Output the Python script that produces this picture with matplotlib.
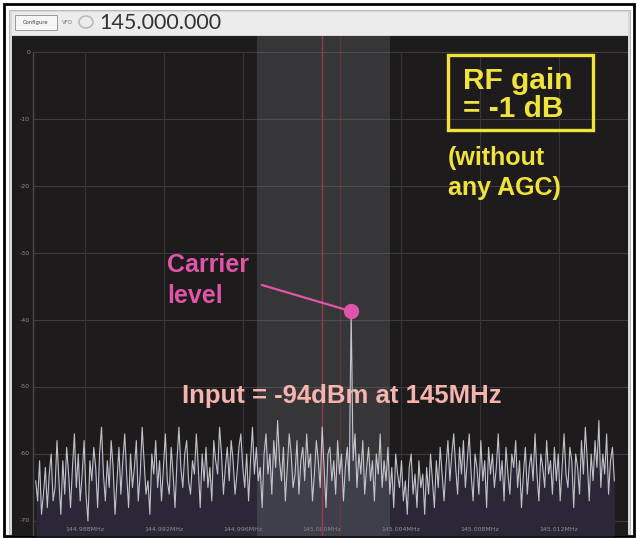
import numpy as np
import matplotlib
matplotlib.use("Agg")
import matplotlib.pyplot as plt
from matplotlib.patches import Rectangle, Circle

W, H = 637, 538

# spectrum bins (kHz offset from 145.000 MHz) and levels (dB)
f_start, f_stop = -14.5, 14.8
levels = [
    -64, -67, -61, -69, -66, -62, -68, -63, -60, -67, -65, -58, -64, -69, -61, -66, -59, -63, -68, -62,
    -57, -65, -60, -67, -63, -58, -66, -70, -61, -64, -59, -62, -68, -60, -56, -63, -67, -61, -65, -58,
    -62, -69, -64, -59, -66, -61, -57, -63, -68, -60, -65, -62, -58, -67, -63, -56, -61, -66, -64, -69,
    -60, -63, -58, -65, -61, -67, -62, -57, -64, -66, -59, -63, -68, -61, -56, -62, -65, -60, -58, -64,
    -66, -61, -63, -57, -62, -68, -60, -64, -59, -65, -62, -67, -58, -61, -63, -56, -60, -66, -62, -59,
    -64, -58, -61, -66, -63, -59, -57, -62, -65, -60, -67, -61, -56, -63, -59, -64, -62, -68, -60, -57,
    -63, -60, -66, -58, -62, -55, -61, -64, -59, -67, -62, -57, -60, -65, -63, -58, -66, -61, -59, -64,
    -57, -62, -60, -67, -63, -58, -61, -65, -56, -62, -68, -60, -59, -64, -61, -66, -58, -63, -60, -67,
    -62, -59, -64, -38.7, -61, -57, -65, -60, -63, -58, -66, -62, -59, -64, -61, -67, -60, -63, -57, -65,
    -61, -64, -59, -66, -62, -68, -60, -63, -65, -61, -67, -64, -69, -62, -60, -66, -63, -68, -61, -65,
    -63, -69, -62, -66, -60, -64, -68, -61, -65, -59, -63, -67, -62, -58, -64, -60, -57, -62, -66, -59,
    -63, -58, -65, -61, -57, -63, -67, -60, -62, -66, -58, -64, -61, -68, -59, -63, -60, -65, -62, -57,
    -64, -61, -67, -59, -63, -66, -60, -62, -58, -65, -61, -68, -63, -59, -66, -62, -60, -64, -57, -63,
    -67, -60, -62, -65, -58, -63, -61, -66, -59, -64, -60, -67, -62, -57, -63, -65, -59, -61, -68, -60,
    -62, -66, -58, -63, -56, -61, -67, -60, -64, -58, -62, -55, -65, -60, -63, -57, -66, -61, -59, -64,
]
carrier_idx = 163

y_ticks = [0, -10, -20, -30, -40, -50, -60, -70]
x_ticks_mhz = [144.988, 144.992, 144.996, 145.000, 145.004, 145.008, 145.012]
x_tick_labels = ["144.988MHz", "144.992MHz", "144.996MHz", "145.000MHz",
                 "145.004MHz", "145.008MHz", "145.012MHz"]
passband = (-3.29, 3.44)

freqs = np.linspace(f_start, f_stop, len(levels))
x_ticks = [(f - 145.0) * 1000 for f in x_ticks_mhz]

fig = plt.figure(figsize=(W / 100, H / 100), dpi=100)
fig.patch.set_facecolor("white")


def fr(x0, y0, x1, y1):
    return (x0 / W, 1 - y1 / H), (x1 - x0) / W, (y1 - y0) / H


# outer frame, grey border, toolbar
for (x0, y0, x1, y1, fc, ec, lw) in [
    (4, 4, 634, 536, "none", "black", 2.0),
    (9, 10, 630, 534, "#d8d8d8", "#bdbdbd", 0.8),
    (12, 12, 628, 35, "#ececec", "none", 0),
]:
    xy, w, h = fr(x0, y0, x1, y1)
    fig.patches.append(Rectangle(xy, w, h, transform=fig.transFigure,
                                 facecolor=fc, edgecolor=ec, linewidth=lw))

xy, w, h = fr(15, 15, 57, 30)
fig.patches.append(Rectangle(xy, w, h, transform=fig.transFigure,
                             facecolor="#f6f6f6", edgecolor="#9a9a9a", linewidth=0.7))
fig.text(36 / W, 1 - 22.5 / H, "Configure", fontsize=3.8, color="#444",
         ha="center", va="center")
fig.text(62 / W, 1 - 22.5 / H, "VFO", fontsize=4, color="#777", va="center")
fig.patches.append(Circle((86 / W, 1 - 22 / H), 7 / W, transform=fig.transFigure,
                          facecolor="none", edgecolor="#bbbbbb", linewidth=1.2))
fig.text(99 / W, 1 - 23 / H, "145.000.000", fontsize=15.5, color="#333333",
         family="Lato", va="center")

# spectrum panel
ax = fig.add_axes([12 / W, 1 - 536 / H, 616 / W, 500 / H])
ax.set_zorder(5)
ax.set_facecolor("#1d1b1b")
ax.set_xlim(-15.70, 15.49)
ax.set_ylim(-72.24, 2.39)
for s in ax.spines.values():
    s.set_visible(False)
ax.set_xticks([])
ax.set_yticks([])

x_axis = -14.63
ax.hlines(y_ticks, x_axis, 15.49, color="#3d3d3d", lw=0.8, zorder=1)
ax.vlines(x_ticks, -70, 0, color="#353535", lw=0.8, zorder=1)
ax.vlines([x_axis], -72.24, 0, color="#4a4a4a", lw=1.0, zorder=1)

for yv in y_ticks:
    ax.text(x_axis - 0.15, yv, str(yv), fontsize=4.5, color="#909090",
            ha="right", va="center")
for xv, lab in zip(x_ticks, x_tick_labels):
    ax.text(xv, -71.3, lab, fontsize=4.5, color="#909090", ha="center", va="center")

ax.fill_between(freqs, levels, -72.24, color="#2b2737", lw=0, zorder=2)
ax.axvspan(*passband, color="#6c7276", alpha=0.32, lw=0, zorder=3)
ax.axvline(0, color="#9a3a46", lw=1.0, zorder=3)
ax.axvline(0.91, color="#9a3a46", lw=0.8, alpha=0.4, zorder=3)
ax.plot(freqs, levels, color="#d4d4dc", lw=0.8, alpha=0.9, zorder=4)

# annotations
pink = "#e055a8"
cx, cy = freqs[carrier_idx], levels[carrier_idx]
ax.plot([-3.04, cx], [-34.78, cy], color=pink, lw=1.6, zorder=5)
ax.plot([cx], [cy], "o", color=pink, ms=10, zorder=6)
ax.text(-7.85, -31.8, "Carrier", color=pink, fontsize=18, fontweight="bold",
        family="Liberation Sans", va="center", ha="left", zorder=6)
ax.text(-7.85, -36.4, "level", color=pink, fontsize=18, fontweight="bold",
        family="Liberation Sans", va="center", ha="left", zorder=6)
ax.text(1.01, -51.3, "Input = -94dBm at 145MHz", color="#f5b4ae", fontsize=18.5,
        fontweight="bold", family="Liberation Sans", va="center", ha="center", zorder=6)

yellow = "#f2e33c"
ax.add_patch(Rectangle((6.38, -11.64), 13.72 - 6.38, 11.64 - 0.45, facecolor="none",
                       edgecolor=yellow, lw=2.4, zorder=6))
ax.text(7.14, -4.3, "RF gain", color=yellow, fontsize=21.5, fontweight="bold",
        family="Liberation Sans", va="center", ha="left", zorder=6)
ax.text(7.14, -8.5, "= -1 dB", color=yellow, fontsize=21.5, fontweight="bold",
        family="Liberation Sans", va="center", ha="left", zorder=6)
ax.text(6.38, -15.8, "(without", color=yellow, fontsize=18, fontweight="bold",
        family="Liberation Sans", va="center", ha="left", zorder=6)
ax.text(6.38, -20.3, "any AGC)", color=yellow, fontsize=18, fontweight="bold",
        family="Liberation Sans", va="center", ha="left", zorder=6)

fig.savefig("out.png", dpi=100, facecolor=fig.get_facecolor())
